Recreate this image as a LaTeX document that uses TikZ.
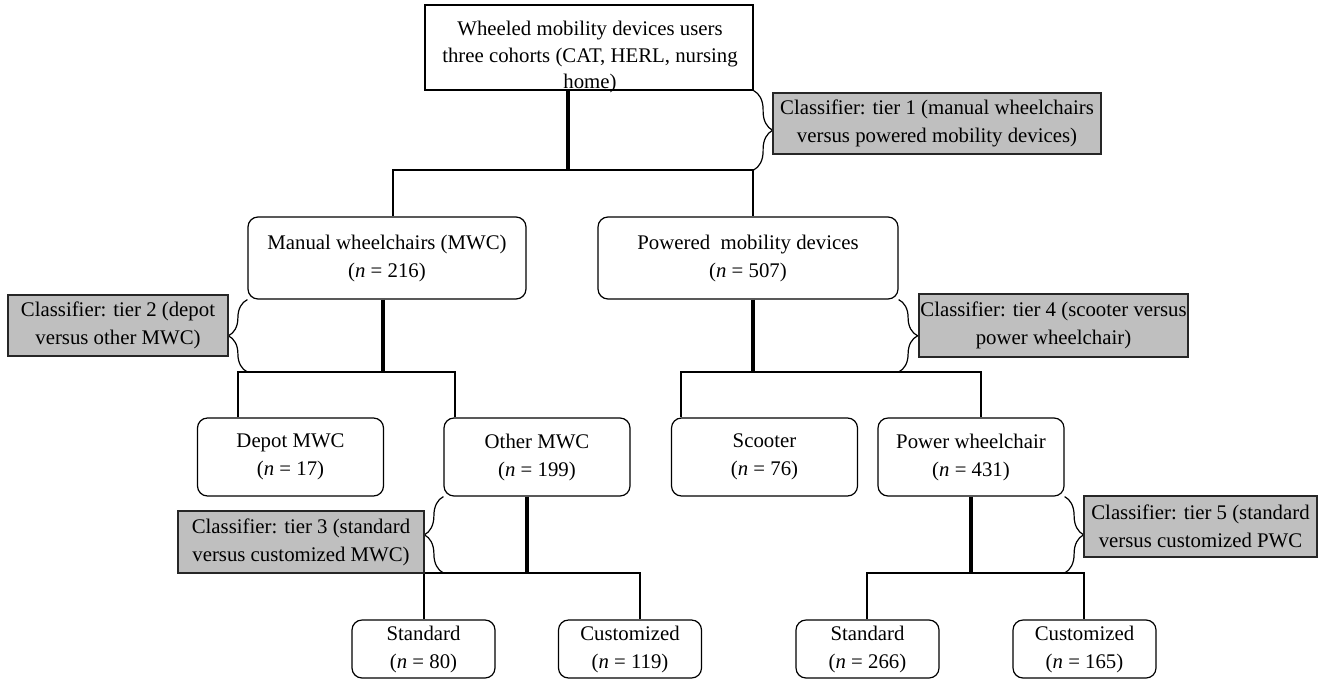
\documentclass[tikz,border=0pt]{standalone}
\usepackage{fontspec}
\setmainfont{Liberation Serif}
\usetikzlibrary{%
  decorations.pathreplacing,% wg. brace
  calc
}

\begin{document}
\begin{tikzpicture}
  [
  x=0.5pt, y=-0.5pt, line width=0.6pt,
  every node/.style={font=\fontsize{10.4}{14}\selectfont, align=center, inner sep=0pt},
  groupnode/.style={draw, rounded corners=5pt},
  tiernode/.style={draw=black!85, fill=black!25, line width=0.7pt},
  stem/.style={line width=2.2pt},
  tierbrace/.style={decorate, decoration={brace, amplitude=9.5pt}}
  ]
  \useasboundingbox (0,0) rectangle (1320,680);

  \node[draw, minimum width=164pt, minimum height=42.5pt] (users) at (589,47.5) {};
  \node[font=\fontsize{10.4}{13.3}\selectfont] (userstext) at (590,57)
    {Wheeled mobility devices users\\three cohorts (CAT, HERL, nursing\\home)};

  \node[groupnode, minimum width=139pt, minimum height=41pt] (mwc) at (387,258)
    {Manual wheelchairs (MWC)\\(\textit{n} = 216)};
  \node[groupnode, minimum width=150pt, minimum height=41pt] (pmd) at (748,258)
    {Powered\ \ mobility devices\\(\textit{n} = 507)};

  \foreach \name/\x/\lbl/\n in {depot/290.5/Depot MWC/17, other/537/Other MWC/199,
      scooter/764.5/Scooter/76, pwc/971/Power wheelchair/431} {
    \node[groupnode, minimum width=93pt, minimum height=39pt] (\name) at (\x,457)
      {\lbl\\(\textit{n} = \n)};
  }

  \foreach \name/\x/\lbl/\n in {stdm/423.5/Standard/80, cusm/630/Customized/119,
      stdp/867.5/Standard/266, cusp/1084.5/Customized/165} {
    \node[groupnode, minimum width=71.5pt, minimum height=29pt] (\name) at (\x,649)
      {\lbl\\(\textit{n} = \n)};
  }

  % splits: parent / stem x / junction y / left child / left x / right child / right x
  \foreach \p/\sx/\jy/\lc/\lx/\rc/\rx in {users/568/170/mwc/393/pmd/753,
      mwc/383/372/depot/238/other/455, pmd/753/372/scooter/681/pwc/981,
      other/527/573/stdm/424/cusm/640, pwc/971/573/stdp/867/cusp/1084} {
    \coordinate (j-\p) at (\sx,\jy);
    \coordinate (l-\p) at (\lx,\jy);
    \coordinate (r-\p) at (\rx,\jy);
    \draw[stem] (j-\p |- \p.south) -- (j-\p);
    \draw (l-\p |- \lc.north) -- (l-\p) -- (r-\p) -- (r-\p |- \rc.north);
  }

  \draw[tierbrace] (users.south east) -- (users.south east |- j-users);
  \draw[tierbrace] (mwc.south west |- j-mwc) -- (mwc.south west);
  \draw[tierbrace] (other.south west |- j-other) -- (other.south west);
  \draw[tierbrace] (pmd.south east) -- (pmd.south east |- j-pmd);
  \draw[tierbrace] (pwc.south east) -- (pwc.south east |- j-pwc);

  \node[tiernode, minimum width=164pt, minimum height=30.5pt] (tier1) at (937,123.5)
    {Classifier: tier 1 (manual wheelchairs\\versus powered mobility devices)};
  \node[tiernode, minimum width=110pt, minimum height=30.5pt] (tier2) at (118,325.5)
    {Classifier: tier 2 (depot\\versus other MWC)};
  \node[tiernode, minimum width=123pt, minimum height=31pt] (tier3) at (301,542)
    {Classifier: tier 3 (standard\\versus customized MWC)};
  \node[tiernode, minimum width=134.5pt, minimum height=31.5pt] (tier4) at (1053.5,325.5)
    {Classifier: tier 4 (scooter versus\\power wheelchair)};
  \node[tiernode, minimum width=116.5pt, minimum height=30.5pt] (tier5) at (1200.5,526.5)
    {Classifier: tier 5 (standard\\versus customized PWC};
\end{tikzpicture}
\end{document}
